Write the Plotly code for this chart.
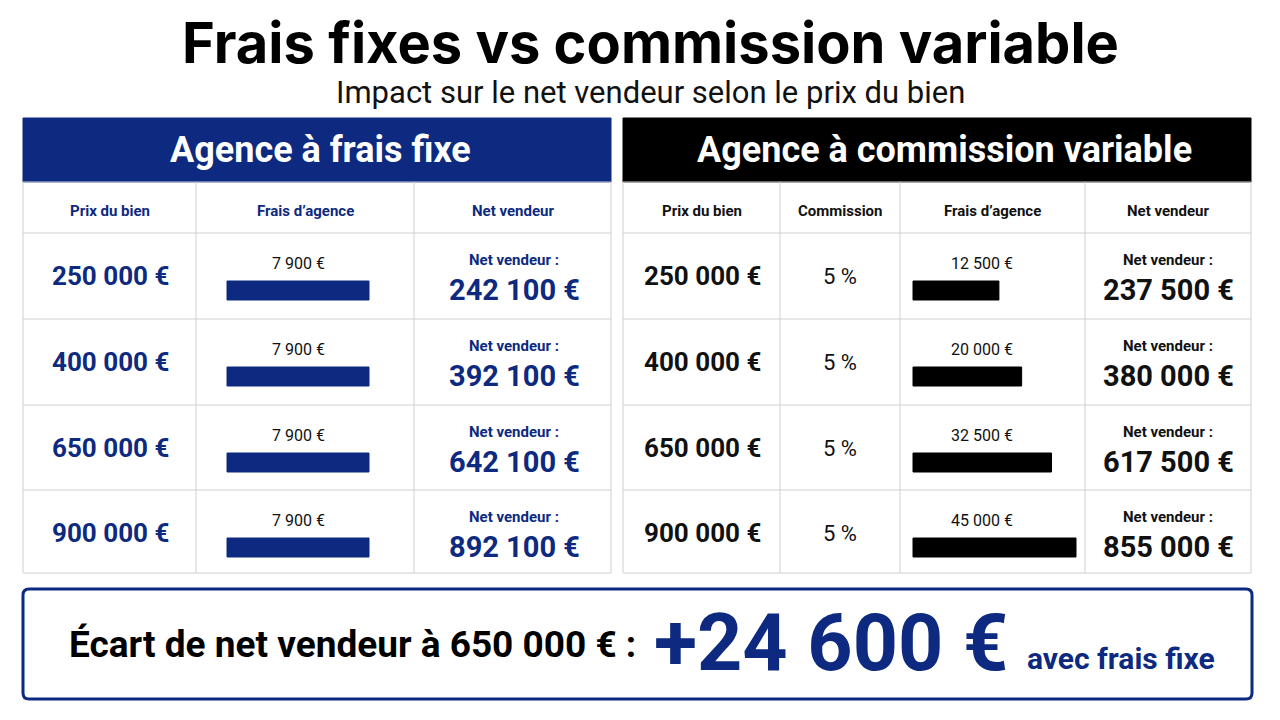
import plotly.graph_objects as go

prices = ["250 000 €", "400 000 €", "650 000 €", "900 000 €"]
fixed_fee = [7900, 7900, 7900, 7900]
fixed_fee_lbl = ["7 900 €"] * 4
fixed_net = ["242 100 €", "392 100 €", "642 100 €", "892 100 €"]
commission = ["5 %"] * 4
var_fee = [12500, 20000, 32500, 45000]
var_fee_lbl = ["12 500 €", "20 000 €", "32 500 €", "45 000 €"]
var_net = ["237 500 €", "380 000 €", "617 500 €", "855 000 €"]
gap_label = "+24 600 €"

NAVY = "#0d2a80"
BLACK = "#000000"
GRID = "#d0d0d0"
F = "Roboto"

fig = go.Figure()
shapes, ann = [], []

def rect(x0, y0, x1, y1, fill=None, line=GRID, w=1):
    shapes.append(dict(type="rect", x0=x0, y0=y0, x1=x1, y1=y1, xref="x", yref="y",
                       fillcolor=fill or "rgba(0,0,0,0)", line=dict(color=line, width=w), layer="above"))

def text(x, y, t, size, color, bold=True, anchor="center"):
    ann.append(dict(x=x, y=y, xref="x", yref="y", text=f"<b>{t}</b>" if bold else t, showarrow=False,
                    xanchor=anchor, yanchor="middle", font=dict(family=F, size=size, color=color)))

ann.append(dict(x=650, y=43, xref="x", yref="y", text="<b>Frais fixes vs commission variable</b>", showarrow=False,
                font=dict(family="Inter", size=56, color="#000", weight=900)))
text(650, 92, "Impact sur le net vendeur selon le prix du bien", 31, "#111", bold=False)

rows = [(233, 319), (319, 405), (405, 490), (490, 573)]

# Left table
rect(23, 118, 611, 182, fill=NAVY, line=NAVY)
text(320, 150, "Agence à frais fixe", 36, "white")
cols = [23, 196, 414, 611]
rect(23, 182, 611, 573)
for c in cols[1:-1]:
    shapes.append(dict(type="line", x0=c, x1=c, y0=182, y1=573, xref="x", yref="y", line=dict(color=GRID, width=1)))
for y0, y1 in rows:
    shapes.append(dict(type="line", x0=23, x1=611, y0=y0, y1=y0, xref="x", yref="y", line=dict(color=GRID, width=1)))
for i, h in enumerate(["Prix du bien", "Frais d’agence", "Net vendeur"]):
    text((cols[i] + cols[i + 1]) / 2, 211, h, 15, NAVY)
maxf = max(fixed_fee)
for i, (y0, y1) in enumerate(rows):
    text(110, y0 + 43, prices[i], 26, NAVY)
    text(298, y0 + 30, fixed_fee_lbl[i], 16, "#111", bold=False)
    w = 142 * fixed_fee[i] / maxf
    rect(227, y0 + 48, 227 + w, y0 + 67, fill=NAVY, line=NAVY)
    text(514, y0 + 27, "Net vendeur :", 15, NAVY)
    text(514, y0 + 57, fixed_net[i], 29, NAVY)

# Right table
rect(623, 118, 1251, 182, fill=BLACK, line=BLACK)
text(944, 150, "Agence à commission variable", 36, "white")
cols = [623, 780, 900, 1085, 1251]
rect(623, 182, 1251, 573)
for c in cols[1:-1]:
    shapes.append(dict(type="line", x0=c, x1=c, y0=182, y1=573, xref="x", yref="y", line=dict(color=GRID, width=1)))
for y0, y1 in rows:
    shapes.append(dict(type="line", x0=623, x1=1251, y0=y0, y1=y0, xref="x", yref="y", line=dict(color=GRID, width=1)))
for i, h in enumerate(["Prix du bien", "Commission", "Frais d’agence", "Net vendeur"]):
    text((cols[i] + cols[i + 1]) / 2, 211, h, 15, "#111")
maxv = max(var_fee)
for i, (y0, y1) in enumerate(rows):
    text(702, y0 + 43, prices[i], 26, "#111")
    text(840, y0 + 43, commission[i], 22, "#111", bold=False)
    text(982, y0 + 30, var_fee_lbl[i], 16, "#111", bold=False)
    w = 163 * (var_fee[i] / maxv) ** 0.5
    rect(913, y0 + 48, 913 + w, y0 + 67, fill=BLACK, line=BLACK)
    text(1168, y0 + 27, "Net vendeur :", 15, "#111")
    text(1168, y0 + 57, var_net[i], 29, "#111")

# Bottom box
shapes.append(dict(type="path", xref="x", yref="y",
                   path="M 29 589 L 1246 589 Q 1252 589 1252 595 L 1252 693 Q 1252 699 1246 699 L 29 699 Q 23 699 23 693 L 23 595 Q 23 589 29 589 Z",
                   line=dict(color=NAVY, width=3), fillcolor="white"))
text(67, 644, "Écart de net vendeur à 650 000 € :", 37, "#000", anchor="left")
text(652, 643, gap_label, 79, NAVY, anchor="left")
text(1025, 658, "avec frais fixe", 30, NAVY, anchor="left")

fig.update_layout(width=1280, height=720, margin=dict(l=0, r=0, t=0, b=0),
                  paper_bgcolor="white", plot_bgcolor="white", shapes=shapes, annotations=ann,
                  xaxis=dict(range=[8, 1288], visible=False, fixedrange=True),
                  yaxis=dict(range=[728, 8], visible=False, fixedrange=True), showlegend=False)
fig.write_html("out.html", config={"displayModeBar": False})
